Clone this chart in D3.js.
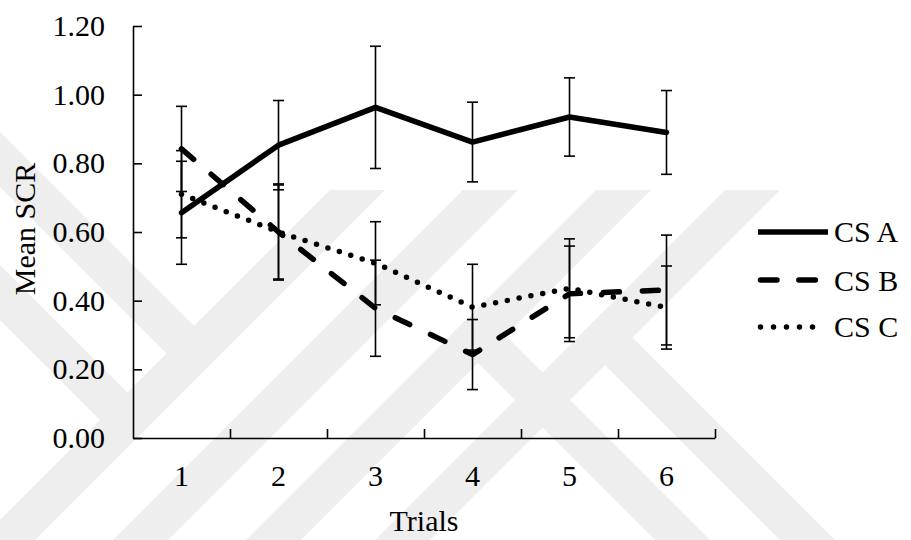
<!DOCTYPE html>
<html>
<head>
<meta charset="utf-8">
<script src="https://cdn.jsdelivr.net/npm/d3@7"></script>
<style>
  html, body { margin: 0; padding: 0; background: #ffffff; }
  svg { display: block; }
  text { font-family: "Liberation Serif", "Times New Roman", serif; fill: #000; }
</style>
</head>
<body>
<svg id="chart" width="911" height="540"></svg>
<script>
// Mean skin conductance response per trial, with error bars
const trials = ["1", "2", "3", "4", "5", "6"];
const csA = [0.656, 0.853, 0.963, 0.862, 0.935, 0.890];
const csAErr = [0.150, 0.130, 0.178, 0.116, 0.114, 0.122];
const csB = [0.842, 0.600, 0.378, 0.243, 0.420, 0.431];
const csBErr = [0.124, 0.137, 0.140, 0.102, 0.139, 0.160];
const csC = [0.710, 0.600, 0.509, 0.381, 0.436, 0.380];
const csCErr = [0.127, 0.140, 0.121, 0.125, 0.144, 0.121];
const seriesNames = ["CS A", "CS B", "CS C"];
const yTicks = [0, 0.2, 0.4, 0.6, 0.8, 1.0, 1.2];

const svg = d3.select("#chart");
const plot = { left: 133, right: 715, top: 26, bottom: 438 };
const FONT = 30;

// faint diagonal background bands
const bandW = 55;
const upBands = [520, 653, 786, 915];          // x + y offsets
const downBands = [[240, 915], [115, 786]];     // [x - y offset, joining up-band]
const leftBands = [-187, -320];                 // x - y offsets on the left edge
const wm = svg.append("g").attr("class", "watermark").attr("fill", "#eeeeee");
const topY = 190, botY = 540;
upBands.forEach(c => {
  wm.append("polygon").attr("points", [
    [c - topY, topY], [c + bandW - topY, topY],
    [c + bandW - botY, botY], [c - botY, botY]
  ].join(" "));
});
downBands.forEach(([d, c]) => {
  wm.append("polygon").attr("points", [
    [(c + d) / 2, (c - d) / 2], [(c + d + bandW) / 2, (c - d - bandW) / 2],
    [d + bandW + botY, botY], [d + botY, botY]
  ].join(" "));
});
leftBands.forEach(d => {
  const c = upBands[0] + bandW / 2;
  wm.append("polygon").attr("points", [
    [0, -(d + bandW)], [0, -d],
    [(c + d) / 2, (c - d) / 2], [(c + d + bandW) / 2, (c - d - bandW) / 2]
  ].join(" "));
});

const x = d3.scaleBand().domain(trials).range([plot.left, plot.right]).padding(0);
const xc = d => x(d) + x.bandwidth() / 2;
const y = d3.scaleLinear().domain([0, 1.2]).range([plot.bottom, plot.top]);
const xEdges = d3.scaleLinear().domain([0, trials.length]).range([plot.left, plot.right]);

// y axis with inward ticks
const yAxis = svg.append("g")
  .attr("transform", `translate(${plot.left},0)`)
  .call(d3.axisLeft(y).tickValues(yTicks).tickFormat(d3.format(".2f"))
    .tickSizeInner(-9).tickSizeOuter(0).tickPadding(28));
yAxis.selectAll("text").style("font-size", FONT + "px");

// x axis: category labels centred, ticks on category boundaries
const xAxis = svg.append("g")
  .attr("transform", `translate(0,${plot.bottom})`)
  .call(d3.axisBottom(x).tickSize(0).tickPadding(27));
xAxis.select(".domain").remove();
xAxis.selectAll("text").style("font-size", FONT + "px");
svg.append("g")
  .attr("transform", `translate(0,${plot.bottom})`)
  .call(d3.axisBottom(xEdges).tickValues(d3.range(1, trials.length + 1))
    .tickSizeInner(-9).tickSizeOuter(0).tickFormat(""));

svg.selectAll(".domain, .tick line").attr("stroke", "#000").attr("stroke-width", 1.6);

// axis titles
svg.append("text")
  .attr("x", (plot.left + plot.right) / 2).attr("y", 531)
  .attr("text-anchor", "middle").style("font-size", FONT + "px")
  .text("Trials");
svg.append("text")
  .attr("transform", "translate(35,229) rotate(-90)")
  .attr("text-anchor", "middle").style("font-size", FONT + "px")
  .text("Mean SCR");

const series = [
  { name: seriesNames[0], values: csA, err: csAErr, dash: null, width: 5.5, legendDash: null },
  { name: seriesNames[1], values: csB, err: csBErr, dash: "16,23", width: 5.5, legendDash: "16.5,21.9" },
  { name: seriesNames[2], values: csC, err: csCErr, dash: "0,12", width: 5.5, legendDash: "0,13" }
];

// error bars
const capHalf = 5.5;
const eb = svg.append("g").attr("stroke", "#000").attr("stroke-width", 1.6);
series.forEach(s => {
  trials.forEach((t, i) => {
    const cx = xc(t), lo = y(s.values[i] - s.err[i]), hi = y(s.values[i] + s.err[i]);
    eb.append("line").attr("x1", cx).attr("x2", cx).attr("y1", lo).attr("y2", hi);
    eb.append("line").attr("x1", cx - capHalf).attr("x2", cx + capHalf).attr("y1", lo).attr("y2", lo);
    eb.append("line").attr("x1", cx - capHalf).attr("x2", cx + capHalf).attr("y1", hi).attr("y2", hi);
  });
});

// series lines
const line = d3.line().x((d, i) => xc(trials[i])).y(d => y(d));
series.forEach(s => {
  svg.append("path")
    .datum(s.values)
    .attr("d", line)
    .attr("fill", "none")
    .attr("stroke", "#000")
    .attr("stroke-width", s.width)
    .attr("stroke-linecap", "round")
    .attr("stroke-linejoin", "round")
    .attr("stroke-dasharray", s.dash);
});

// legend
const legendRows = [232, 280, 327];
const legendText = [242, 291, 337];
const lg = svg.append("g");
series.forEach((s, i) => {
  const x0 = s.dash ? 760.5 : 758, x1 = s.dash ? 825.5 : 828;
  lg.append("line")
    .attr("x1", x0).attr("x2", x1)
    .attr("y1", legendRows[i]).attr("y2", legendRows[i])
    .attr("stroke", "#000").attr("stroke-width", s.width)
    .attr("stroke-linecap", s.dash ? "round" : "butt")
    .attr("stroke-dasharray", s.legendDash);
  lg.append("text")
    .attr("x", 834).attr("y", legendText[i])
    .style("font-size", FONT + "px")
    .text(s.name);
});
</script>
</body>
</html>
